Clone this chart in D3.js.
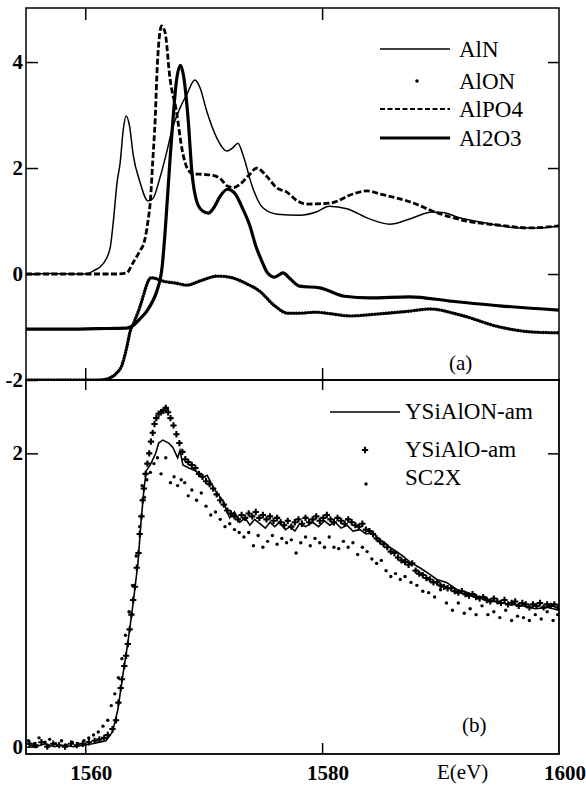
<html>
<head><meta charset="utf-8">
<style>
  svg text { font-family: 'Times New Roman', 'Liberation Serif' !important; }
</style>
</head>
<body style="margin:0">
<div id="container"></div>
<script src="https://d3js.org/d3.v7.min.js"></script>
<script>
// values, pairs of [E (eV), intensity]

// panel (a)
var alN = [[1555,0.0],[1557,0.01],[1559.5,0.0],[1560.2,0.01],[1560.7,0.06],[1561.5,0.19],[1562.1,0.49],[1562.35,0.94],
  [1562.7,1.75],[1562.95,2.1],[1563.2,2.7],[1563.45,2.98],[1563.75,2.78],[1564.05,2.25],[1564.6,1.75],[1565.3,1.38],
  [1565.7,1.42],[1566.3,1.81],[1566.9,2.32],[1567.3,2.70],[1568.0,3.13],[1568.6,3.40],[1569.25,3.66],[1569.7,3.51],
  [1570.25,3.08],[1571.1,2.57],[1571.95,2.32],[1572.45,2.38],[1572.9,2.47],[1573.3,2.26],[1574.15,1.62],[1575.0,1.25],
  [1576.2,1.13],[1578.1,1.11],[1579.5,1.17],[1580.6,1.28],[1582.1,1.23],[1584.0,1.04],[1585.7,0.94],[1587.4,1.04],
  [1589.3,1.17],[1590.2,1.16],[1591.6,1.06],[1593.9,0.96],[1596.7,0.87],[1598.5,0.87],[1600,0.91]];

var alON = [[1555,-2.0],[1558,-2.0],[1561.0,-2.0],[1561.6,-1.99],[1562.1,-1.96],[1562.6,-1.88],[1563.1,-1.72],
  [1563.5,-1.39],[1563.8,-1.08],[1564.1,-0.92],[1564.6,-0.63],[1565.0,-0.34],[1565.3,-0.14],[1565.6,-0.07],
  [1566.0,-0.09],[1566.5,-0.13],[1567.6,-0.17],[1568.6,-0.21],[1569.7,-0.13],[1571.2,-0.04],[1572.2,-0.06],
  [1573.5,-0.17],[1574.7,-0.32],[1576.0,-0.6],[1577.1,-0.74],[1578.1,-0.74],[1579.4,-0.72],[1580.7,-0.75],
  [1582.3,-0.79],[1584.9,-0.75],[1587.4,-0.70],[1589.1,-0.66],[1591.6,-0.77],[1595.0,-1.0],[1597.5,-1.09],[1600,-1.11]];

var alPO4 = [[1555,0.0],[1558,0.0],[1561,0.0],[1562.5,0.0],[1563.5,0.02],[1564.0,0.2],[1564.6,0.43],[1565.0,0.62],
  [1565.3,1.0],[1565.5,1.38],[1565.7,2.13],[1565.9,2.89],[1566.1,4.0],[1566.45,4.68],[1566.75,4.55],[1567.15,3.70],
  [1567.7,3.07],[1568.2,2.32],[1568.6,2.0],[1569.1,1.89],[1570.0,1.88],[1570.8,1.86],[1571.4,1.80],[1572.0,1.66],
  [1572.5,1.63],[1573.1,1.70],[1573.8,1.86],[1574.5,2.0],[1575.3,1.85],[1576.2,1.62],[1577.0,1.55],[1577.9,1.38],
  [1578.7,1.32],[1580.7,1.34],[1582.6,1.51],[1583.8,1.57],[1584.9,1.51],[1587.7,1.34],[1589.3,1.19],[1592.2,1.0],
  [1595.0,0.92],[1597.5,0.87],[1600,0.91]];

var al2O3 = [[1555,-1.04],[1558,-1.04],[1561,-1.03],[1563.5,-1.02],[1564.0,-0.98],[1564.6,-0.85],[1565.2,-0.70],
  [1565.7,-0.51],[1566.05,-0.32],[1566.5,0.15],[1566.75,0.81],[1567.15,2.13],[1567.4,2.89],[1567.7,3.64],[1568.05,3.94],
  [1568.3,3.74],[1568.7,2.89],[1569.0,1.94],[1569.4,1.38],[1569.9,1.19],[1570.4,1.15],[1570.8,1.23],[1571.4,1.47],
  [1572.0,1.60],[1572.6,1.53],[1573.3,1.23],[1573.9,0.91],[1574.4,0.53],[1574.9,0.25],[1575.4,0.02],[1576.0,-0.06],
  [1576.7,0.02],[1577.3,-0.09],[1578.1,-0.23],[1579.8,-0.26],[1581.9,-0.42],[1584.0,-0.45],[1587.4,-0.43],
  [1590.8,-0.51],[1595.0,-0.60],[1600,-0.68]];

// panel (b)
var ysialonAm = [[1555,0.02],[1555.8,0.0],[1556.6,0.02],[1557.4,0.0],[1558.2,0.01],[1559,0.0],[1559.8,0.01],
  [1560.6,0.02],[1561.2,0.03],[1561.75,0.04],[1562.3,0.1],[1562.75,0.25],[1563.2,0.5],[1563.6,0.71],[1564.0,0.95],
  [1564.45,1.25],[1564.7,1.52],[1564.95,1.75],[1565.15,1.88],[1565.55,1.93],[1565.95,2.0],[1566.2,2.07],[1566.55,2.09],
  [1567.05,2.07],[1567.4,2.04],[1567.8,1.97],[1568.0,2.02],[1568.25,1.92],[1568.75,1.90],[1569.35,1.88],[1569.9,1.83],
  [1570.3,1.85],[1570.8,1.77],[1571.2,1.72],[1571.6,1.68],[1572.2,1.56],[1572.6,1.60],[1573.05,1.53],[1573.5,1.56],
  [1573.9,1.51],[1574.3,1.55],[1574.75,1.52],[1575.2,1.49],[1575.6,1.53],[1576.0,1.50],[1576.4,1.53],[1576.9,1.48],
  [1577.3,1.50],[1577.7,1.47],[1578.1,1.52],[1578.6,1.50],[1579.2,1.53],[1579.7,1.50],[1580.2,1.54],[1580.65,1.51],
  [1581.1,1.53],[1581.6,1.49],[1582.1,1.51],[1582.6,1.47],[1583.2,1.48],[1583.7,1.45],[1584.3,1.46],[1584.8,1.41],
  [1585.3,1.39],[1585.7,1.36],[1586.3,1.33],[1586.8,1.30],[1587.4,1.26],[1588.25,1.22],[1589.0,1.18],[1589.7,1.14],
  [1590.5,1.12],[1591.4,1.07],[1592.3,1.05],[1593.3,1.02],[1594.2,1.00],[1595.1,0.98],[1596.1,0.97],[1597.0,0.96],
  [1598.0,0.94],[1599.0,0.95],[1600,0.93]];

var ysialoAm = [[1555.3,0.02],[1555.8,0.01],[1556.3,0.03],[1556.8,0.0],[1557.3,0.02],[1557.8,0.01],[1558.3,0.0],
  [1558.8,0.02],[1559.3,0.01],[1559.8,0.02],[1560.3,0.03],[1560.8,0.04],[1561.2,0.05],[1561.6,0.06],[1561.9,0.08],
  [1562.3,0.12],[1562.6,0.18],[1562.8,0.30],[1563.0,0.40],[1563.1,0.46],[1563.3,0.55],[1563.45,0.62],[1563.6,0.70],
  [1563.75,0.80],[1563.9,0.90],[1564.05,1.0],[1564.2,1.09],[1564.35,1.22],[1564.5,1.32],[1564.6,1.45],[1564.75,1.57],
  [1564.85,1.68],[1564.95,1.76],[1565.1,1.86],[1565.25,1.93],[1565.4,2.0],[1565.55,2.08],[1565.7,2.14],[1565.85,2.2],
  [1566.0,2.24],[1566.2,2.27],[1566.4,2.28],[1566.6,2.29],[1566.8,2.31],[1567.0,2.28],[1567.2,2.24],[1567.45,2.19],
  [1567.7,2.13],[1567.95,2.07],[1568.2,2.01],[1568.45,1.96],[1568.7,1.94],[1569.0,1.92],[1569.3,1.90],[1569.6,1.86],
  [1569.9,1.84],[1570.2,1.81],[1570.5,1.79],[1570.8,1.76],[1571.1,1.72],[1571.4,1.68],[1571.7,1.65],[1572.0,1.61],
  [1572.3,1.59],[1572.6,1.57],[1572.9,1.55],[1573.2,1.58],[1573.5,1.56],[1573.8,1.59],[1574.1,1.57],[1574.4,1.60],
  [1574.7,1.56],[1575.0,1.58],[1575.3,1.55],[1575.6,1.57],[1575.9,1.54],[1576.2,1.56],[1576.5,1.53],[1576.8,1.51],
  [1577.1,1.54],[1577.4,1.50],[1577.7,1.53],[1578.0,1.55],[1578.3,1.52],[1578.6,1.56],[1578.9,1.53],[1579.2,1.55],
  [1579.5,1.57],[1579.8,1.54],[1580.1,1.56],[1580.4,1.58],[1580.7,1.55],[1581.0,1.53],[1581.3,1.56],[1581.6,1.54],
  [1581.9,1.52],[1582.2,1.55],[1582.5,1.53],[1582.8,1.51],[1583.1,1.50],[1583.4,1.52],[1583.7,1.48],[1584.0,1.47],
  [1584.3,1.45],[1584.6,1.42],[1584.9,1.40],[1585.2,1.38],[1585.5,1.36],[1585.8,1.33],[1586.1,1.32],[1586.4,1.29],
  [1586.7,1.27],[1587.0,1.26],[1587.3,1.24],[1587.6,1.25],[1587.9,1.20],[1588.2,1.18],[1588.5,1.17],[1588.8,1.15],
  [1589.1,1.14],[1589.4,1.12],[1589.7,1.12],[1590.0,1.10],[1590.3,1.09],[1590.6,1.08],[1590.9,1.08],[1591.2,1.06],
  [1591.5,1.05],[1591.8,1.06],[1592.1,1.04],[1592.4,1.03],[1592.7,1.04],[1593.0,1.02],[1593.3,1.01],[1593.6,1.02],
  [1593.9,1.00],[1594.2,0.99],[1594.5,1.01],[1594.8,0.99],[1595.1,0.98],[1595.4,1.00],[1595.7,0.97],[1596.0,0.98],
  [1596.3,0.99],[1596.6,0.96],[1596.9,0.98],[1597.2,0.97],[1597.5,0.95],[1597.8,0.97],[1598.1,0.96],[1598.4,0.98],
  [1598.7,0.95],[1599.0,0.97],[1599.3,0.96],[1599.6,0.97],[1599.9,0.95]];

var sc2x = [[1555.2,0.04],[1555.7,0.02],[1556.1,0.06],[1556.6,0.03],[1557.0,0.05],[1557.5,0.02],[1558.0,0.04],
  [1558.4,0.01],[1558.9,0.03],[1559.4,0.02],[1559.9,0.04],[1560.3,0.06],[1560.7,0.08],[1561.1,0.10],[1561.5,0.14],
  [1561.9,0.18],[1562.2,0.28],[1562.5,0.36],[1562.8,0.47],[1563.1,0.6],[1563.4,0.76],[1563.7,0.92],[1564.0,1.1],
  [1564.3,1.3],[1564.6,1.5],[1564.8,1.78],[1565.0,1.7],[1565.2,1.82],[1565.5,1.87],[1565.8,1.93],[1566.1,1.97],
  [1566.4,1.86],[1566.8,1.97],[1567.2,1.80],[1567.5,1.84],[1567.8,1.78],[1568.1,1.82],[1568.4,1.80],[1568.7,1.71],
  [1569.0,1.75],[1569.4,1.68],[1569.8,1.73],[1570.2,1.64],[1570.6,1.58],[1571.0,1.60],[1571.4,1.55],[1571.8,1.50],
  [1572.2,1.52],[1572.6,1.48],[1573.0,1.46],[1573.4,1.43],[1573.8,1.46],[1574.2,1.37],[1574.6,1.44],[1575.0,1.36],
  [1575.4,1.40],[1575.8,1.44],[1576.2,1.38],[1576.6,1.42],[1577.0,1.39],[1577.4,1.41],[1577.8,1.32],[1578.2,1.39],
  [1578.6,1.43],[1579.0,1.37],[1579.4,1.42],[1579.8,1.39],[1580.2,1.36],[1580.6,1.43],[1581.0,1.36],[1581.4,1.35],
  [1581.8,1.40],[1582.2,1.36],[1582.6,1.39],[1583.0,1.31],[1583.4,1.36],[1583.8,1.33],[1584.2,1.28],[1584.6,1.25],
  [1585.0,1.27],[1585.4,1.20],[1585.8,1.16],[1586.2,1.18],[1586.6,1.14],[1587.0,1.16],[1587.5,1.12],[1588.0,1.10],
  [1588.5,1.06],[1589.0,1.05],[1589.5,1.02],[1590.0,1.07],[1590.5,0.98],[1591.0,0.93],[1591.5,0.98],[1592.0,0.91],
  [1592.5,0.94],[1593.0,0.90],[1593.5,0.96],[1594.0,0.90],[1594.5,0.92],[1595.0,0.88],[1595.5,0.93],[1596.0,0.86],
  [1596.5,0.89],[1597.0,0.88],[1597.5,0.86],[1598.0,0.90],[1598.5,0.87],[1599.0,0.92],[1599.5,0.86],[1599.9,0.90]];

var xTicks = [1560, 1580, 1600];
var yTicksA = [-2, 0, 2, 4];
var yTicksB = [0, 2];
var legendA = ["AlN", "AlON", "AlPO4", "Al2O3"];
var legendB = ["YSiAlON-am", "YSiAlO-am", "SC2X"];

var svg = d3.select("#container").append("svg").attr("width", 586).attr("height", 790)
  .attr("font-family", "Times New Roman");

function label(x0, y0, size, txt, bold, anchor) {
  return svg.append("text").attr("x", x0).attr("y", y0)
    .attr("font-family", "Times New Roman")
    .style("font-family", "'Times New Roman'", "important")
    .attr("font-size", size)
    .attr("font-weight", bold ? "bold" : null)
    .attr("text-anchor", anchor || "start")
    .text(txt);
}

var left = 26, right = 559;
var topA = 8, midY = 380, botB = 754;

var x = d3.scaleLinear().domain([1555, 1600]).range([left, right]);
var yA = d3.scaleLinear().domain([-2, 5.02]).range([midY, topA]);
var yB = d3.scaleLinear().domain([-0.05, 2.5]).range([botB, midY]);

var defs = svg.append("defs");
defs.append("clipPath").attr("id", "clipA").append("rect")
  .attr("x", left).attr("y", topA).attr("width", right - left).attr("height", midY - topA);
defs.append("clipPath").attr("id", "clipB").append("rect")
  .attr("x", left).attr("y", midY).attr("width", right - left).attr("height", botB - midY);

var lineA = d3.line().x(function(d) { return x(d[0]); }).y(function(d) { return yA(d[1]); })
  .curve(d3.curveMonotoneX);
var lineB = d3.line().x(function(d) { return x(d[0]); }).y(function(d) { return yB(d[1]); });

// ---- panel (a) curves
var ga = svg.append("g").attr("clip-path", "url(#clipA)");
ga.append("path").datum(alON).attr("d", lineA)
  .attr("fill", "none").attr("stroke", "#000").attr("stroke-width", 3.4)
  .attr("stroke-linecap", "round").attr("stroke-dasharray", "0.01,2.8");
ga.append("path").datum(al2O3).attr("d", lineA)
  .attr("fill", "none").attr("stroke", "#000").attr("stroke-width", 3.2);
ga.append("path").datum(alPO4).attr("d", lineA)
  .attr("fill", "none").attr("stroke", "#000").attr("stroke-width", 2.8)
  .attr("stroke-dasharray", "6,2.5");
ga.append("path").datum(alN).attr("d", lineA)
  .attr("fill", "none").attr("stroke", "#000").attr("stroke-width", 1.5);

// ---- panel (b) curves
var gb = svg.append("g").attr("clip-path", "url(#clipB)");
gb.selectAll("circle.sc").data(sc2x).enter().append("circle")
  .attr("class", "sc")
  .attr("cx", function(d) { return x(d[0]); })
  .attr("cy", function(d) { return yB(d[1]); })
  .attr("r", 1.7).attr("fill", "#000");
gb.append("path").datum(ysialonAm).attr("d", lineB)
  .attr("fill", "none").attr("stroke", "#000").attr("stroke-width", 1.6);
var cross = d3.symbol().type(d3.symbolCross).size(22);
gb.selectAll("path.cr").data(ysialoAm).enter().append("path")
  .attr("class", "cr")
  .attr("d", cross)
  .attr("transform", function(d) { return "translate(" + x(d[0]) + "," + yB(d[1]) + ")"; })
  .attr("fill", "#000");

// ---- frames
svg.append("rect").attr("x", left).attr("y", topA).attr("width", right - left).attr("height", midY - topA)
  .attr("fill", "none").attr("stroke", "#000").attr("stroke-width", 1.5);
svg.append("rect").attr("x", left).attr("y", midY).attr("width", right - left).attr("height", botB - midY)
  .attr("fill", "none").attr("stroke", "#000").attr("stroke-width", 1.8);

// ---- ticks, drawn by d3 axes without labels
function ticksOnly(g) {
  g.select(".domain").remove();
  g.selectAll(".tick text").remove();
  g.selectAll(".tick line").attr("stroke", "#000").attr("stroke-width", 1.5);
}
svg.append("g").attr("transform", "translate(" + left + ",0)")
  .call(d3.axisLeft(yA).tickValues(yTicksA).tickSize(-12).tickSizeOuter(0)).call(ticksOnly);
svg.append("g").attr("transform", "translate(" + left + ",0)")
  .call(d3.axisLeft(yB).tickValues(yTicksB).tickSize(-12).tickSizeOuter(0)).call(ticksOnly);
svg.append("g").attr("transform", "translate(" + right + ",0)")
  .call(d3.axisRight(yA).tickValues([0, 2, 4]).tickSize(-11).tickSizeOuter(0)).call(ticksOnly);
svg.append("g").attr("transform", "translate(" + right + ",0)")
  .call(d3.axisRight(yB).tickValues([2]).tickSize(-11).tickSizeOuter(0)).call(ticksOnly);
svg.append("g").attr("transform", "translate(0," + topA + ")")
  .call(d3.axisTop(x).tickValues([1560, 1580]).tickSize(-12).tickSizeOuter(0)).call(ticksOnly);
svg.append("g").attr("transform", "translate(0," + midY + ")")
  .call(d3.axisBottom(x).tickValues([1560, 1580]).tickSize(-12).tickSizeOuter(0)).call(ticksOnly);
svg.append("g").attr("transform", "translate(0," + midY + ")")
  .call(d3.axisTop(x).tickValues([1560, 1580]).tickSize(-10).tickSizeOuter(0)).call(ticksOnly);
svg.append("g").attr("transform", "translate(0," + botB + ")")
  .call(d3.axisBottom(x).tickValues([1560, 1580]).tickSize(-11).tickSizeOuter(0)).call(ticksOnly);

// tick labels placed through the scales
yTicksA.forEach(function(v) { label(left - 3, yA(v) + 7, 21, String(v), true, "end"); });
yTicksB.forEach(function(v) { label(left - 3, yB(v) + 7, 21, String(v), true, "end"); });
xTicks.forEach(function(v) { label(x(v) + 6, 780, 21, String(v), true, "middle"); });
label(437, 779, 21, "E(eV)");

// ---- legend (a)
var rowA = [49, 81, 109, 138];
legendA.forEach(function(name, i) {
  var yy = rowA[i];
  if (name === "AlN") {
    svg.append("line").attr("x1", 380).attr("x2", 450).attr("y1", yy).attr("y2", yy)
      .attr("stroke", "#000").attr("stroke-width", 1.5);
  } else if (name === "AlON") {
    svg.append("circle").attr("cx", 417).attr("cy", yy).attr("r", 1.8).attr("fill", "#000");
  } else if (name === "AlPO4") {
    svg.append("line").attr("x1", 380).attr("x2", 450).attr("y1", yy).attr("y2", yy)
      .attr("stroke", "#000").attr("stroke-width", 2.2).attr("stroke-dasharray", "5,2.5");
  } else {
    svg.append("line").attr("x1", 380).attr("x2", 450).attr("y1", yy).attr("y2", yy)
      .attr("stroke", "#000").attr("stroke-width", 3);
  }
  label(459, yy + 8, 23, name);
});
label(449, 370, 21, "(a)");

// ---- legend (b)
var rowB = [412, 450, 478];
legendB.forEach(function(name, i) {
  var yy = rowB[i];
  if (i === 0) {
    svg.append("line").attr("x1", 330).attr("x2", 400).attr("y1", yy).attr("y2", yy)
      .attr("stroke", "#000").attr("stroke-width", 1.6);
  } else if (i === 1) {
    svg.append("path").attr("d", cross).attr("transform", "translate(365," + yy + ")").attr("fill", "#000");
  } else {
    svg.append("circle").attr("cx", 366).attr("cy", yy + 6).attr("r", 1.7).attr("fill", "#000");
  }
  label(405, yy + 7, 23, name);
});
label(462, 732, 21, "(b)");
</script>
</body>
</html>
